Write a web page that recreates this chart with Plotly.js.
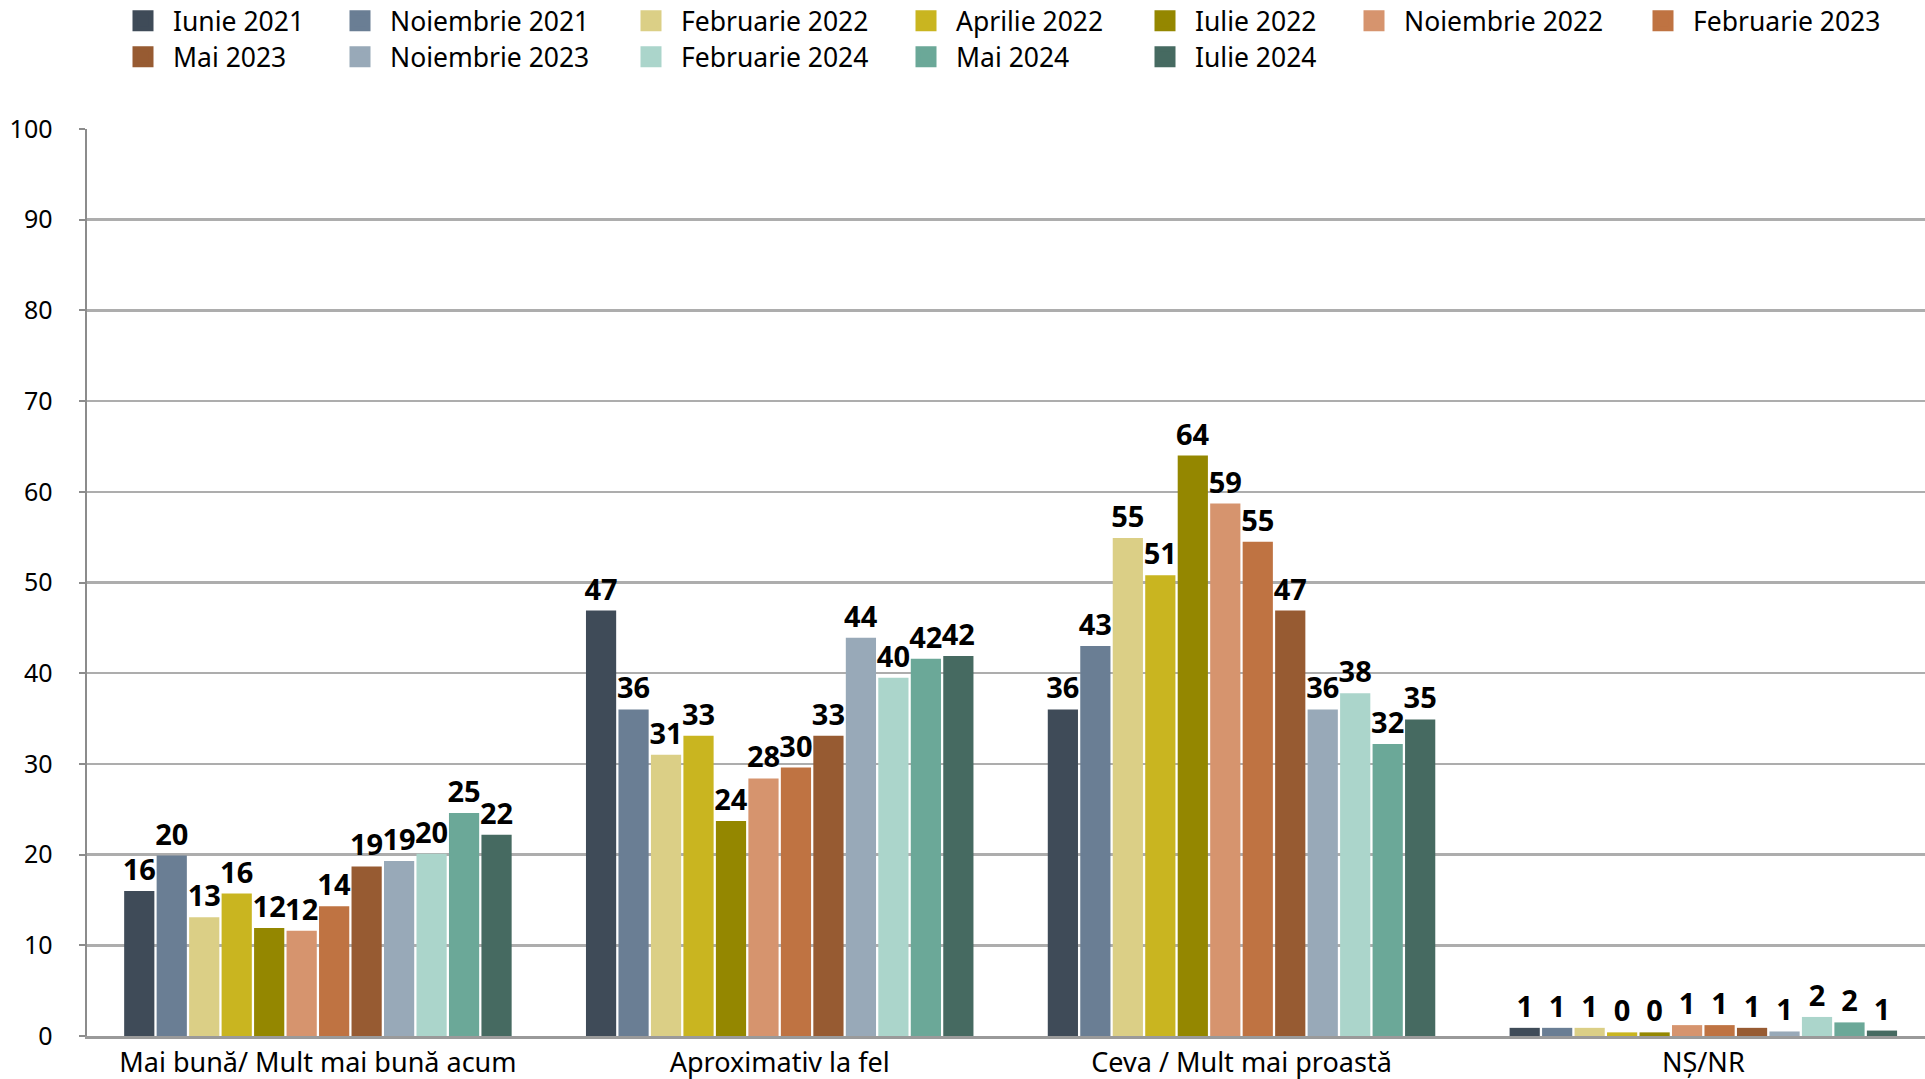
<!DOCTYPE html>
<html>
<head>
<meta charset="utf-8">
<script src="https://cdn.plot.ly/plotly-3.0.1.min.js"></script>
<style>
  html, body { margin: 0; padding: 0; background: #fff; }
  #chart { width: 1925px; height: 1079px; }
</style>
</head>
<body>
<div id="chart"></div>
<script>
var categories = ['Mai bună/ Mult mai bună acum', 'Aproximativ la fel', 'Ceva / Mult mai proastă', 'NȘ/NR'];

var seriesNames = [
  'Iunie 2021', 'Noiembrie 2021', 'Februarie 2022', 'Aprilie 2022', 'Iulie 2022', 'Noiembrie 2022',
  'Februarie 2023', 'Mai 2023', 'Noiembrie 2023', 'Februarie 2024', 'Mai 2024', 'Iulie 2024'
];

// one array per survey wave, in category order
var iunie2021     = [16.0, 46.9, 36.0, 0.9];
var noiembrie2021 = [19.9, 36.0, 43.0, 0.9];
var februarie2022 = [13.1, 31.0, 54.9, 0.9];
var aprilie2022   = [15.7, 33.1, 50.8, 0.4];
var iulie2022     = [11.9, 23.7, 64.0, 0.4];
var noiembrie2022 = [11.6, 28.4, 58.7, 1.2];
var februarie2023 = [14.3, 29.6, 54.5, 1.2];
var mai2023       = [18.7, 33.1, 46.9, 0.9];
var noiembrie2023 = [19.3, 43.9, 36.0, 0.5];
var februarie2024 = [20.1, 39.5, 37.8, 2.1];
var mai2024       = [24.6, 41.6, 32.2, 1.5];
var iulie2024     = [22.2, 41.9, 34.9, 0.6];

var seriesValues = [
  iunie2021, noiembrie2021, februarie2022, aprilie2022, iulie2022, noiembrie2022,
  februarie2023, mai2023, noiembrie2023, februarie2024, mai2024, iulie2024
];

var seriesColors = [
  '#3F4B58', '#6A7E94', '#DBCF86', '#C9B520', '#948700', '#D6946E',
  '#BF7342', '#975B32', '#98A9B8', '#ABD5CB', '#6BA898', '#466A61'
];

// legend grid of the original: 7 columns, 2 rows
var legendColumnX = [173, 390, 681, 956, 1195, 1404, 1693];
var legendRowY = [21, 57];
var legendPerRow = 7;

var FONT = 'Noto Sans, Open Sans, sans-serif';
var W = 1925, H = 1079;

var traces = [];
seriesValues.forEach(function(vals, i) {
  traces.push({
    type: 'bar',
    name: seriesNames[i],
    x: categories,
    y: vals,
    marker: {color: seriesColors[i]},
    texttemplate: '%{y:.0f}',
    textposition: 'outside',
    textangle: 0,
    constraintext: 'none',
    cliponaxis: false,
    textfont: {family: FONT, size: 29, weight: 'bold', color: '#000'},
    showlegend: false,
    hoverinfo: 'skip'
  });
});

// legend-only entries (bigger squares than the bar legend symbol), one legend per item
var layoutLegends = {};
seriesNames.forEach(function(name, i) {
  var key = i === 0 ? 'legend' : 'legend' + (i + 1);
  var col = i % legendPerRow, row = Math.floor(i / legendPerRow);
  layoutLegends[key] = {
    xref: 'container', yref: 'container',
    x: (legendColumnX[col] - 60) / W, xanchor: 'left',
    y: 1 - legendRowY[row] / H, yanchor: 'middle',
    orientation: 'v',
    itemwidth: 50,
    bgcolor: 'rgba(0,0,0,0)',
    font: {family: FONT, size: 26.5, color: '#000'}
  };
  traces.push({
    type: 'scatter',
    mode: 'markers',
    name: name,
    x: [0],
    y: [-10],
    xaxis: 'x2',
    yaxis: 'y2',
    legend: key,
    marker: {symbol: 'square', size: 16, color: seriesColors[i], line: {width: 5, color: seriesColors[i]}},
    hoverinfo: 'skip'
  });
});

var layout = Object.assign({
  width: W,
  height: H,
  margin: {l: 87, r: 0, t: 129, b: 43, autoexpand: false},
  paper_bgcolor: 'white',
  plot_bgcolor: 'white',
  font: {family: FONT, color: '#000'},
  barmode: 'group',
  bargap: 0.156,
  bargroupgap: 0.07,
  showlegend: true,
  xaxis: {
    type: 'category',
    categoryarray: categories,
    range: [-0.5, 3.48],
    showline: true,
    linecolor: '#9A9A9A',
    linewidth: 3,
    ticks: '',
    showgrid: false,
    tickfont: {family: FONT, size: 27, color: '#000'},
    ticklabelstandoff: 1,
    automargin: false,
    fixedrange: true
  },
  yaxis: {
    range: [0, 100],
    tick0: 0,
    dtick: 10,
    showgrid: true,
    gridcolor: '#ADADAD',
    gridwidth: 2.5,
    zeroline: false,
    showline: true,
    linecolor: '#8C8C8C',
    linewidth: 2.5,
    ticks: 'outside',
    ticklen: 6,
    tickwidth: 2,
    tickcolor: '#8C8C8C',
    tickfont: {family: FONT, size: 25, color: '#000'},
    ticklabelstandoff: 21,
    automargin: false,
    fixedrange: true
  },
  xaxis2: {overlaying: 'x', visible: false, range: [-1, 1], fixedrange: true},
  yaxis2: {overlaying: 'y', visible: false, range: [0, 1], fixedrange: true}
}, layoutLegends);

Plotly.newPlot('chart', traces, layout, {displayModeBar: false, staticPlot: true});
</script>
</body>
</html>
